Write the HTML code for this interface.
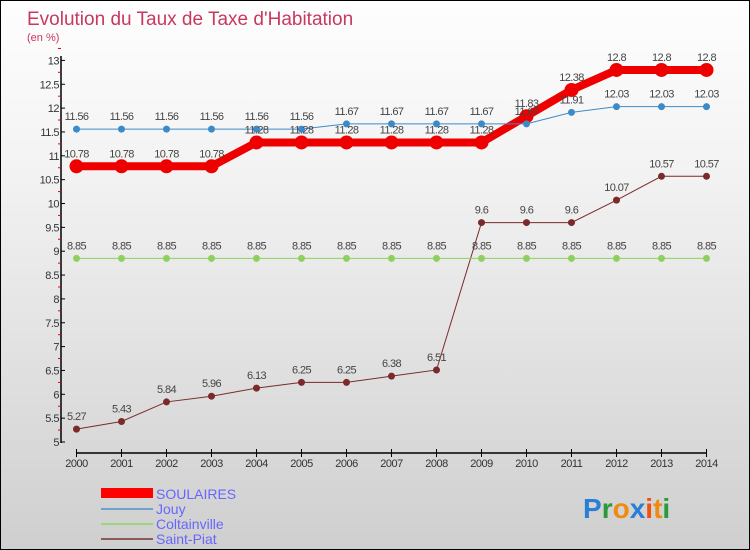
<!DOCTYPE html>
<html><head><meta charset="utf-8"><style>
body{margin:0}
#c{width:750px;height:550px;position:relative;background:linear-gradient(#fefefe,#f3f3f3 30%,#cfcfcf);border:1px solid #000;box-sizing:border-box;font-family:"Liberation Sans",sans-serif;overflow:hidden}
text{font-family:"Liberation Sans",sans-serif}
</style></head><body>
<div id="c">
<svg id="s" width="750" height="550" style="position:absolute;left:0;top:0">
<text x="26" y="24" font-size="19" fill="#c8385f">Evolution du Taux de Taxe d'Habitation</text>
<text x="26" y="40" font-size="11" fill="#c8385f">(en %)</text>
<g id="g"></g>
<g>
<rect x="100" y="487" width="52" height="10" fill="#f00"/>
<text x="155" y="498" font-size="14" fill="#6666ff">SOULAIRES</text>
<rect x="100" y="507" width="52" height="2" fill="#6fa3cd"/>
<text x="155" y="513" font-size="14" fill="#6666ff">Jouy</text>
<rect x="100" y="522" width="52" height="2" fill="#9ed47a"/>
<text x="155" y="528" font-size="14" fill="#6666ff">Coltainville</text>
<rect x="100" y="537" width="52" height="2" fill="#8b5a5a"/>
<text x="155" y="543" font-size="14" fill="#6666ff">Saint-Piat</text>
</g>
<g font-size="28" font-weight="bold">
<text x="582" y="517"><tspan fill="#2a7fd4">P</tspan><tspan fill="#2a9a3a">r</tspan><tspan fill="#f08a10">o</tspan><tspan fill="#2a7fd4">x</tspan><tspan fill="#f05010">i</tspan><tspan fill="#f08a10">t</tspan><tspan fill="#2a9a3a">i</tspan></text>
</g>
</svg>
</div>
<script>
const years=[2000,2001,2002,2003,2004,2005,2006,2007,2008,2009,2010,2011,2012,2013,2014];
const soulaires=[10.78,10.78,10.78,10.78,11.28,11.28,11.28,11.28,11.28,11.28,11.83,12.38,12.8,12.8,12.8];
const jouy=[11.56,11.56,11.56,11.56,11.56,11.56,11.67,11.67,11.67,11.67,11.67,11.91,12.03,12.03,12.03];
const coltainville=[8.85,8.85,8.85,8.85,8.85,8.85,8.85,8.85,8.85,8.85,8.85,8.85,8.85,8.85,8.85];
const saintPiat=[5.27,5.43,5.84,5.96,6.13,6.25,6.25,6.38,6.51,9.6,9.6,9.6,10.07,10.57,10.57];
const yTicks=[5,5.5,6,6.5,7,7.5,8,8.5,9,9.5,10,10.5,11,11.5,12,12.5,13];
const NS="http://www.w3.org/2000/svg";
const g=document.getElementById('g');
const X=i=>75.5+i*45;
const Y=v=>441-(v-5)*47.7;
function el(t,a){const e=document.createElementNS(NS,t);for(const k in a)e.setAttribute(k,a[k]);g.appendChild(e);return e;}
let e=el('line',{x1:60,y1:55,x2:60,y2:442,stroke:'#000','stroke-width':1.5});


e=el('line',{x1:75,y1:452,x2:706,y2:452,stroke:'#000','stroke-width':1.5});


yTicks.forEach(v=>{
 el('line',{x1:60,y1:Y(v),x2:64,y2:Y(v),stroke:'#000'});
 el('line',{x1:57,y1:Y(v+0.25),x2:60,y2:Y(v+0.25),stroke:'#e00'});
 const t=el('text',{x:58,y:Y(v)+4,'font-size':11,fill:'#333','text-anchor':'end','letter-spacing':'-0.5'});
 t.textContent=String(v);
 
 
});
years.forEach((y,i)=>{
 el('line',{x1:X(i),y1:448,x2:X(i),y2:456,stroke:'#000'});
 const t=el('text',{x:X(i),y:466,'font-size':11,fill:'#333','text-anchor':'middle','letter-spacing':'-0.5'});
 t.textContent=y;
 
 
});
function series(vals,color,w,r,name){
 const p=el('polyline',{points:vals.map((v,i)=>X(i)+','+Y(v)).join(' '),fill:'none',stroke:color,'stroke-width':w});
 
 
 vals.forEach((v,i)=>{
  const c=el('circle',{cx:X(i),cy:Y(v),r:r,fill:color});
  
  
 });
}
function labels(vals,name){
 vals.forEach((v,i)=>{
  const t=el('text',{x:X(i),y:Y(v)-9,'font-size':11,fill:'#444','text-anchor':'middle','letter-spacing':'-0.6'});
  t.textContent=String(v);
  
  
 });
}
series(saintPiat,'#7a2a2a',1,3.5,'saint-piat');
series(coltainville,'#8ed060',1,3.5,'coltainville');
series(soulaires,'#ee0000',8,7,'soulaires');
series(jouy,'#3d8ac8',1,3.5,'jouy');
labels(saintPiat,'saint-piat');labels(coltainville,'coltainville');labels(soulaires,'soulaires');labels(jouy,'jouy');
</script>
</body></html>
